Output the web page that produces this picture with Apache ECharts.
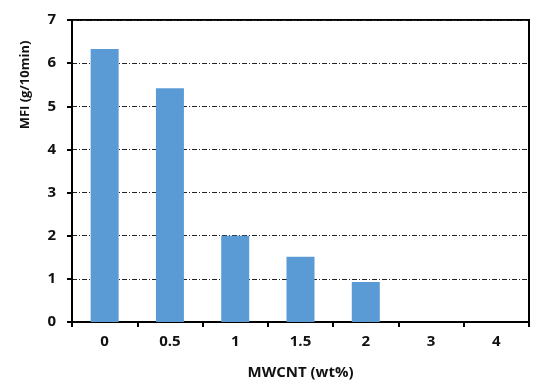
<!DOCTYPE html>
<html>
<head>
<meta charset="utf-8">
<script src="https://cdn.jsdelivr.net/npm/echarts@6/dist/echarts.min.js"></script>
<style>html,body{margin:0;padding:0;background:#fff}#c{width:550px;height:387px}</style>
</head>
<body>
<div id="c"></div>
<script>
var categories = ['0', '0.5', '1', '1.5', '2', '3', '4'];
var mfiValues = [6.33, 5.42, 2.0, 1.51, 0.93, 0, 0];
var yTicks = [0, 1, 2, 3, 4, 5, 6, 7];
var xTitle = 'MWCNT (wt%)';
var yTitle = 'MFI (g/10min)';

var chart = echarts.init(document.getElementById('c'), null, {renderer: 'canvas'});
var font = 'Open Sans';
chart.setOption({
  animation: false,
  backgroundColor: '#ffffff',
  grid: {left: 72, right: 21, top: 20, bottom: 65, show: true, borderColor: '#000', borderWidth: 2, backgroundColor: 'transparent'},
  graphic: [{
    type: 'text',
    x: 25,
    y: 85,
    rotation: Math.PI / 2,
    style: {text: yTitle, fontFamily: font, fontWeight: 'bold', fontSize: 13, fill: '#111', align: 'center', verticalAlign: 'middle'}
  }],
  xAxis: {
    type: 'category',
    data: categories,
    name: xTitle,
    nameLocation: 'middle',
    nameGap: 43,
    nameTextStyle: {fontFamily: font, fontWeight: 'bold', fontSize: 15, color: '#111'},
    axisLine: {lineStyle: {color: '#000', width: 2}},
    axisTick: {show: true, alignWithLabel: false, length: 5, lineStyle: {color: '#000', width: 2}},
    axisLabel: {fontFamily: font, fontWeight: 'bold', fontSize: 15, color: '#111', margin: 12}
  },
  yAxis: {
    type: 'value',
    min: yTicks[0],
    max: yTicks[yTicks.length - 1],
    interval: 1,
    axisLine: {show: true, lineStyle: {color: '#000', width: 2}},
    axisTick: {show: true, length: 5, lineStyle: {color: '#000', width: 2}},
    axisLabel: {fontFamily: font, fontWeight: 'bold', fontSize: 15, color: '#111', margin: 16},
    splitLine: {show: true, lineStyle: {color: '#222', width: 1, type: [5, 2, 1, 2]}}
  },
  series: [{
    type: 'bar',
    data: mfiValues,
    barWidth: 28,
    itemStyle: {color: '#5B9BD5'}
  }]
});
</script>
</body>
</html>
